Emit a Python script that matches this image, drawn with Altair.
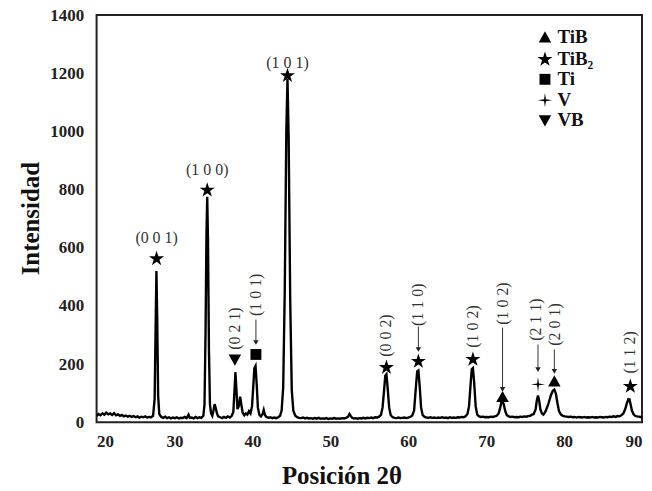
import altair as alt
import pandas as pd

# ---- spectrum (2θ, intensity) ----
two_theta = [
    20.0, 20.25, 20.5, 20.75, 21.0, 21.25, 21.5, 21.75, 22.0, 22.25, 22.5, 22.75,
    23.0, 23.25, 23.5, 23.75, 24.0, 24.25, 24.5, 24.75, 25.0, 25.25, 25.5, 25.75,
    26.0, 26.25, 26.5, 26.75, 27.0, 27.25, 27.45, 27.58, 27.68, 27.78, 27.9, 28.05,
    28.3, 28.55, 28.8, 29.05, 29.3, 29.55, 29.8, 30.05, 30.3, 30.55, 30.8, 31.05,
    31.3, 31.55, 31.8, 31.95, 32.2, 32.45, 32.7, 32.95, 33.2, 33.45, 33.7, 33.85,
    33.98, 34.1, 34.2, 34.3, 34.42, 34.55, 34.7, 34.85, 35.0, 35.15, 35.3, 35.45,
    35.6, 35.85, 36.1, 36.35, 36.6, 36.85, 37.1, 37.35, 37.55, 37.7, 37.82, 37.95,
    38.08, 38.25, 38.42, 38.58, 38.75, 38.95, 39.15, 39.35, 39.55, 39.75, 39.95, 40.1,
    40.25, 40.4, 40.55, 40.7, 40.9, 41.1, 41.3, 41.45, 41.6, 41.8, 42.05, 42.3,
    42.55, 42.8, 43.05, 43.3, 43.55, 43.75, 43.95, 44.15, 44.35, 44.5, 44.65, 44.85,
    45.05, 45.25, 45.5, 45.75, 46.0, 46.25, 46.5, 46.75, 47.0, 47.25, 47.5, 47.75,
    48.0, 48.25, 48.5, 48.75, 49.0, 49.25, 49.5, 49.75, 50.0, 50.25, 50.5, 50.75,
    51.0, 51.25, 51.5, 51.75, 52.0, 52.25, 52.45, 52.6, 52.8, 53.0, 53.25, 53.5,
    53.75, 54.0, 54.25, 54.5, 54.75, 55.0, 55.25, 55.5, 55.75, 56.0, 56.25, 56.5,
    56.7, 56.9, 57.05, 57.2, 57.35, 57.55, 57.75, 58.0, 58.25, 58.5, 58.75, 59.0,
    59.25, 59.5, 59.75, 60.0, 60.25, 60.5, 60.75, 60.95, 61.15, 61.3, 61.45, 61.65,
    61.85, 62.1, 62.35, 62.6, 62.85, 63.1, 63.35, 63.6, 63.85, 64.1, 64.35, 64.6,
    64.85, 65.1, 65.35, 65.6, 65.85, 66.1, 66.35, 66.6, 66.85, 67.1, 67.35, 67.6,
    67.8, 68.0, 68.15, 68.3, 68.45, 68.65, 68.85, 69.1, 69.35, 69.6, 69.85, 70.1,
    70.35, 70.6, 70.85, 71.1, 71.35, 71.6, 71.8, 71.95, 72.1, 72.25, 72.45, 72.65,
    72.9, 73.15, 73.4, 73.65, 73.9, 74.15, 74.4, 74.65, 74.9, 75.15, 75.4, 75.65,
    75.9, 76.1, 76.35, 76.5, 76.65, 76.8, 76.95, 77.15, 77.35, 77.6, 77.95, 78.3,
    78.55, 78.75, 78.95, 79.15, 79.35, 79.6, 79.85, 80.1, 80.35, 80.6, 80.85,
    81.1, 81.35, 81.6, 81.85, 82.1, 82.35, 82.6, 82.85, 83.1, 83.35, 83.6, 83.85,
    84.1, 84.35, 84.6, 84.85, 85.1, 85.35, 85.6, 85.85, 86.1, 86.35, 86.6, 86.85,
    87.1, 87.35, 87.6, 87.85, 88.05, 88.25, 88.4, 88.55, 88.7, 88.9, 89.1, 89.35,
    89.6, 89.8, 90.0,
]
intensity = [
    22, 28, 24, 30, 26, 33, 27, 30, 25, 31, 24, 27,
    22, 25, 20, 23, 19, 22, 18, 21, 17, 20, 16, 19,
    17, 20, 16, 18, 17, 22, 80, 330, 520, 360, 90, 28,
    18, 15, 19, 14, 17, 13, 16, 14, 17, 13, 15, 14,
    18, 14, 26, 15, 16, 13, 18, 14, 17, 15, 22, 60,
    300, 640, 775, 620, 250, 60, 30, 22, 40, 62, 48, 30,
    20, 17, 14, 18, 15, 20, 16, 22, 35, 110, 172, 110,
    45, 55, 88, 60, 32, 24, 30, 26, 38, 30, 55, 120,
    185, 193, 130, 50, 25, 20, 28, 42, 25, 18, 15, 17,
    14, 16, 14, 17, 22, 40, 120, 450, 1000, 1180, 980, 420,
    110, 40, 22, 17, 15, 14, 16, 13, 15, 13, 14, 12,
    14, 12, 15, 12, 13, 12, 14, 11, 13, 12, 14, 12,
    13, 12, 14, 13, 15, 18, 28, 22, 15, 13, 14, 12,
    14, 13, 15, 13, 15, 14, 16, 14, 17, 16, 19, 25,
    50, 110, 160, 165, 120, 50, 24, 17, 15, 14, 16, 14,
    15, 16, 14, 16, 18, 22, 40, 110, 175, 178, 130, 50,
    24, 18, 16, 15, 17, 15, 16, 14, 16, 15, 17, 15,
    16, 14, 17, 15, 16, 15, 17, 16, 18, 17, 20, 28,
    55, 130, 182, 186, 140, 55, 26, 20, 18, 19, 17, 18,
    17, 19, 18, 20, 22, 30, 50, 68, 72, 62, 38, 24,
    20, 18, 19, 17, 18, 17, 19, 18, 20, 19, 21, 22,
    26, 28, 45, 75, 92, 75, 45, 30, 26, 36, 60, 92,
    108, 112, 98, 65, 38, 26, 22, 20, 19, 18, 19,
    17, 18, 16, 18, 17, 16, 18, 16, 17, 16, 18, 16,
    17, 16, 18, 17, 16, 18, 17, 19, 18, 20, 18, 21,
    20, 24, 30, 45, 65, 79, 78, 60, 40, 28, 22, 20,
    19, 18, 18,
]

# ---- phase markers ----
marker_x = [27.7, 34.2, 44.5, 57.2, 61.3, 68.3, 88.5, 37.75, 40.45, 72.1, 78.75, 76.65]
marker_y = [562, 798, 1192, 188, 209, 216, 123, 216, 233, 86, 140, 130]
marker_phase = ["TiB₂", "TiB₂", "TiB₂", "TiB₂", "TiB₂", "TiB₂", "TiB₂", "VB", "Ti", "TiB", "TiB", "V"]

# ---- horizontal Miller-index labels ----
hlabel_x = [27.7, 34.2, 44.5]
hlabel_y = [634, 866, 1236]
hlabel_text = ["(0 0 1)", "(1 0 0)", "(1 0 1)"]

# ---- vertical Miller-index labels ----
vlabel_x = [37.75, 40.45, 57.2, 61.3, 68.3, 72.1, 76.45, 78.85, 88.5]
vlabel_y = [322, 438, 298, 404, 329, 408, 353, 336, 240]
vlabel_text = ["(0 2 1)", "(1 0 1)", "(0 0 2)", "(1 1 0)", "(1 0 2)", "(1 0 2)", "(2 1 1)", "(2 0 1)", "(1 1 2)"]

# ---- arrows (from label down to marker) ----
arrow_x = [40.45, 61.3, 72.1, 76.65, 78.75]
arrow_top = [353, 329, 325, 267, 250]
arrow_end = [274, 250, 113, 181, 175]

phases = ["TiB", "TiB₂", "Ti", "V", "VB"]
STAR = ("M0,-1.45L0.326,-0.448L1.379,-0.448L0.526,0.171L0.853,1.173L0,0.554"
        "L-0.853,1.173L-0.526,0.171L-1.379,-0.448L-0.326,-0.448Z")
PLUS = "M0,-1.3L0.17,-0.17L1.3,0L0.17,0.17L0,1.3L-0.17,0.17L-1.3,0L-0.17,-0.17Z"
TRI_UP = "M0,-1.15L1.15,0.9L-1.15,0.9Z"
TRI_DOWN = "M0,1.15L1.15,-0.9L-1.15,-0.9Z"
shapes = [TRI_UP, STAR, "square", PLUS, TRI_DOWN]

SERIF = "Liberation Serif"

spec = pd.DataFrame({"t": two_theta, "i": intensity})
markers = pd.DataFrame({"t": marker_x, "i": marker_y, "phase": marker_phase})
hl = pd.DataFrame({"t": hlabel_x, "i": hlabel_y, "txt": hlabel_text})
vl = pd.DataFrame({"t": vlabel_x, "i": vlabel_y, "txt": vlabel_text})
ar = pd.DataFrame({"t": arrow_x, "i": arrow_top, "i2": arrow_end})

xscale = alt.Scale(domain=[20, 90], nice=False)
yscale = alt.Scale(domain=[0, 1400], nice=False)

xaxis = alt.Axis(
    values=[20, 30, 40, 50, 60, 70, 80, 90], grid=False, ticks=False, domain=False,
    labelFont=SERIF, labelFontWeight="bold", labelFontSize=17, labelColor="#222",
    labelPadding=11, title="Posición 2θ", titleFont=SERIF, titleFontWeight="bold",
    titleFontSize=25, titleColor="#111", titleX=246, titleY=42, titleBaseline="top",
)
yaxis = alt.Axis(
    values=list(range(0, 1401, 200)), format="d", grid=False, ticks=False, domain=False,
    labelFont=SERIF, labelFontWeight="bold", labelFontSize=17, labelColor="#222",
    labelPadding=13, title="Intensidad", titleFont=SERIF, titleFontWeight="bold",
    titleFontSize=25, titleColor="#111", titleX=-66, titleY=204,
    titleBaseline="middle", titleAlign="center", titleAngle=270,
)

line = alt.Chart(spec).mark_line(color="black", strokeWidth=2.4, clip=True).encode(
    x=alt.X("t:Q", scale=xscale, axis=xaxis),
    y=alt.Y("i:Q", scale=yscale, axis=yaxis),
)

pts = alt.Chart(markers).mark_point(filled=True, color="black", size=120, opacity=1).encode(
    x=alt.X("t:Q", scale=xscale),
    y=alt.Y("i:Q", scale=yscale),
    shape=alt.Shape(
        "phase:N",
        scale=alt.Scale(domain=phases, range=shapes),
        legend=alt.Legend(
            title=None, orient="none", legendX=441, legendY=13, padding=0,
            symbolSize=120, symbolFillColor="black", symbolStrokeColor="black",
            labelFont=SERIF, labelFontWeight="bold", labelFontSize=19, labelColor="#111",
            rowPadding=0, labelOffset=3,
        ),
    ),
)

rules = alt.Chart(ar).mark_rule(color="#333", strokeWidth=1).encode(
    x=alt.X("t:Q", scale=xscale),
    y=alt.Y("i:Q", scale=yscale),
    y2="i2:Q",
)
heads = alt.Chart(ar).mark_point(shape="triangle-down", filled=True, color="#222", size=30, opacity=1).encode(
    x=alt.X("t:Q", scale=xscale),
    y=alt.Y("i2:Q", scale=yscale),
)

htext = alt.Chart(hl).mark_text(font=SERIF, fontSize=16, color="#333").encode(
    x=alt.X("t:Q", scale=xscale),
    y=alt.Y("i:Q", scale=yscale),
    text="txt:N",
)
vtext = alt.Chart(vl).mark_text(font=SERIF, fontSize=16, color="#333", angle=270).encode(
    x=alt.X("t:Q", scale=xscale),
    y=alt.Y("i:Q", scale=yscale),
    text="txt:N",
)

chart = alt.layer(line, rules, heads, pts, htext, vtext).properties(
    width=548, height=409,
    autosize=alt.AutoSizeParams(type="none"),
    padding={"left": 89, "top": 6, "right": 2, "bottom": 68},
    background="white",
).configure_view(stroke="#222", strokeWidth=2)

chart.save("out.html", embed_options={"renderer": "svg", "actions": False})
